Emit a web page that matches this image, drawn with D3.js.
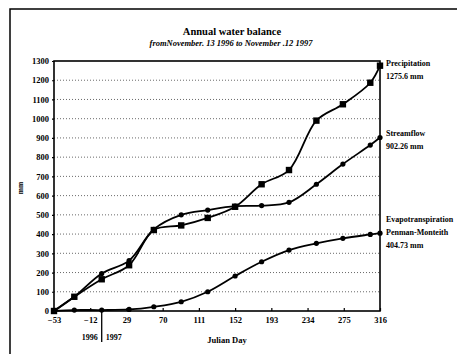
<!DOCTYPE html>
<html>
<head>
<meta charset="utf-8">
<script src="https://cdn.jsdelivr.net/npm/d3@7"></script>
<style>
  body { margin: 0; background: #fff; }
  svg text { font-family: "Liberation Serif", "DejaVu Serif", serif; font-weight: bold; fill: #000; }
</style>
</head>
<body>
<svg id="chart" width="457" height="354"></svg>
<script>
// julian days of the monthly readings
const days = [-53, -30, 1, 32, 60, 91, 121, 152, 182, 213, 244, 274, 305, 316];
// cumulative mm
const precipitation = [0, 74, 165, 238, 421, 445, 484, 542, 659, 733, 990, 1075, 1187, 1275.6];
const streamflow = [0, 74, 195, 262, 425, 500, 525, 545, 548, 565, 659, 764, 863, 902.26];
const evapo = [0, 5, 5, 8, 22, 48, 100, 182, 256, 317, 352, 378, 398, 404.73];

const xTicks = [-53, -12, 29, 70, 111, 152, 193, 234, 275, 316];
const yTicks = d3.range(0, 1301, 100);

const svg = d3.select('#chart');
const x = d3.scaleLinear().domain([-53, 316]).range([54, 380]);
const y = d3.scaleLinear().domain([0, 1300]).range([311, 61]);

// outer frame (only top and left survive in the scan)
svg.append('path')
    .attr('d', 'M10,354 V9 H457')
    .attr('fill', 'none').attr('stroke', '#000').attr('stroke-width', 1.5);

// titles
svg.append('text').attr('x', 232).attr('y', 35).attr('text-anchor', 'middle')
    .attr('font-size', 10.5).text('Annual water balance');
svg.append('text').attr('x', 231).attr('y', 46).attr('text-anchor', 'middle')
    .attr('font-size', 8.5).attr('font-style', 'italic')
    .text('fromNovember. 13 1996 to November .12 1997');

// dotted grid
svg.append('g').selectAll('line')
    .data(yTicks.filter(v => v > 0 && v < 1300))
    .enter().append('line')
    .attr('x1', x(-53)).attr('x2', x(316))
    .attr('y1', d => y(d)).attr('y2', d => y(d))
    .attr('stroke', '#444').attr('stroke-width', 0.8)
    .attr('stroke-dasharray', '1,2');

// axes
const yAxis = svg.append('g').attr('transform', `translate(${x(-53)},0)`)
    .call(d3.axisLeft(y).tickValues(yTicks).tickSize(2).tickFormat(d3.format('d')));
const xAxis = svg.append('g').attr('transform', `translate(0,${y(0)})`)
    .call(d3.axisBottom(x).tickValues(xTicks).tickSize(-3).tickFormat(d3.format('d')));
[xAxis, yAxis].forEach(g => {
    g.select('.domain').remove();
    g.selectAll('line').attr('stroke', '#000').attr('stroke-width', 1.2);
    g.selectAll('text').attr('font-size', 8.5).attr('font-family', '"Liberation Serif", serif')
        .attr('font-weight', 'bold');
});
xAxis.selectAll('text').attr('dy', '1.1em');

// plot border
svg.append('rect')
    .attr('x', x(-53)).attr('y', y(1300))
    .attr('width', x(316) - x(-53)).attr('height', y(0) - y(1300))
    .attr('fill', 'none').attr('stroke', '#000').attr('stroke-width', 1.6);

// year divider
svg.append('line').attr('x1', x(1)).attr('x2', x(1)).attr('y1', y(0)).attr('y2', 342)
    .attr('stroke', '#000').attr('stroke-width', 1.3);
svg.append('text').attr('x', x(1) - 4).attr('y', 340).attr('text-anchor', 'end')
    .attr('font-size', 8).text('1996');
svg.append('text').attr('x', x(1) + 4).attr('y', 340)
    .attr('font-size', 8).text('1997');

// axis titles
svg.append('text').attr('x', 227).attr('y', 343).attr('text-anchor', 'middle')
    .attr('font-size', 8.5).text('Julian Day');
svg.append('text').attr('transform', 'translate(23,188) rotate(-90)')
    .attr('text-anchor', 'middle').attr('font-size', 7.5).text('mm');

// series
const line = d3.line()
    .x(d => x(d[0])).y(d => y(d[1]))
    .curve(d3.curveCatmullRom.alpha(0.5));

function drawSeries(values, marker) {
    const pts = days.map((d, i) => [d, values[i]]);
    svg.append('path').datum(pts)
        .attr('d', line)
        .attr('fill', 'none').attr('stroke', '#000').attr('stroke-width', 1.8);
    const g = svg.append('g');
    if (marker === 'square') {
        g.selectAll('rect').data(pts).enter().append('rect')
            .attr('x', d => x(d[0]) - 3.2).attr('y', d => y(d[1]) - 3.2)
            .attr('width', 6.4).attr('height', 6.4).attr('fill', '#000');
    } else {
        g.selectAll('circle').data(pts).enter().append('circle')
            .attr('cx', d => x(d[0])).attr('cy', d => y(d[1]))
            .attr('r', 2.6).attr('fill', '#000');
    }
}
drawSeries(evapo, 'circle');
drawSeries(streamflow, 'circle');
drawSeries(precipitation, 'square');

// end labels
const endLabels = [
    { lines: ['Precipitation', '1275.6 mm'], y: 66 },
    { lines: ['Streamflow', '902.26 mm'], y: 136 },
    { lines: ['Evapotranspiration', 'Penman-Monteith', '404.73 mm'], y: 222 }
];
endLabels.forEach(l => {
    l.lines.forEach((t, i) => {
        svg.append('text').attr('x', 386).attr('y', l.y + i * 13)
            .attr('font-size', 8).text(t);
    });
});
</script>
</body>
</html>
